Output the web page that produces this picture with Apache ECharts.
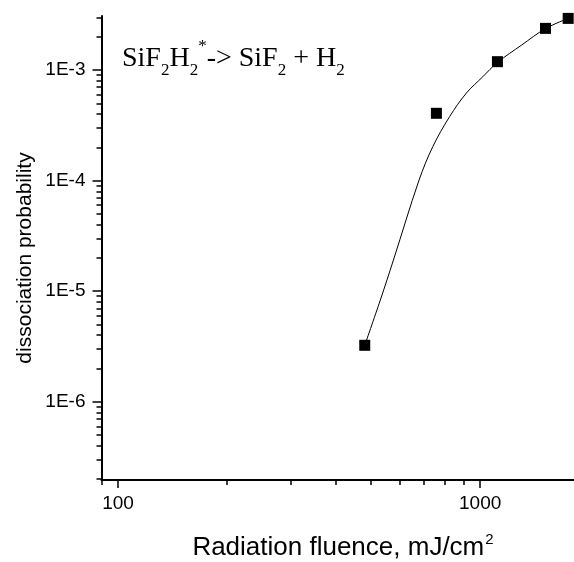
<!DOCTYPE html>
<html>
<head>
<meta charset="utf-8">
<script src="https://cdn.jsdelivr.net/npm/echarts@6/dist/echarts.min.js"></script>
<style>
html,body{margin:0;padding:0;background:#fff;}
#chart{width:574px;height:562px;}
</style>
</head>
<body>
<div id="chart"></div>
<script>
// ---- data ----
const fluence = [480, 757, 1116, 1515, 1750];               // mJ/cm^2
const probability = [3.24e-6, 4.06e-4, 1.19e-3, 2.38e-3, 2.93e-3];

// fitted guide curve
const fitFluence = [480, 530, 576, 678, 740, 823, 915, 1017, 1116, 1301, 1515, 1750];
const fitProbability = [3.24e-6, 8.32e-6, 1.91e-5, 1.01e-4, 2.03e-4, 3.78e-4, 6.16e-4, 8.7e-4, 1.17e-3, 1.68e-3, 2.37e-3, 2.93e-3];

const xRange = [90, 1816];
const yRange = [1.96e-7, 3.08e-3];
const xMajorTicks = [100, 1000];
const xMinorTicks = [90, 200, 300, 400, 500, 600, 700, 800, 900];
const yMajorTicks = [1e-6, 1e-5, 1e-4, 1e-3];
const yMajorLabels = ['1E-6', '1E-5', '1E-4', '1E-3'];
const yMinorTicks = [2e-7,3e-7,4e-7,5e-7,6e-7,7e-7,8e-7,9e-7,
  2e-6,3e-6,4e-6,5e-6,6e-6,7e-6,8e-6,9e-6,
  2e-5,3e-5,4e-5,5e-5,6e-5,7e-5,8e-5,9e-5,
  2e-4,3e-4,4e-4,5e-4,6e-4,7e-4,8e-4,9e-4,
  2e-3,3e-3];

const L = Math.log10;
const pts = fluence.map((x, i) => [L(x), L(probability[i])]);
const fit = fitFluence.map((x, i) => [L(x), L(fitProbability[i])]);

const font = 'Liberation Sans, Arial, sans-serif';
const serif = 'Liberation Serif, Times New Roman, serif';
const axisCol = '#000';

function xAxisDef(major) {
  return {
    type: 'value', min: L(xRange[0]), max: L(xRange[1]), position: 'bottom',
    axisLine: { show: major, onZero: false, lineStyle: { color: axisCol, width: 2 } },
    splitLine: { show: false },
    axisTick: { show: true, inside: false, length: major ? 8 : 5,
      customValues: (major ? xMajorTicks : xMinorTicks).map(L),
      lineStyle: { color: axisCol, width: 1.5 } },
    axisLabel: major ? { show: true, customValues: xMajorTicks.map(L), margin: 14,
      formatter: v => String(Math.round(Math.pow(10, v))),
      fontFamily: font, fontSize: 19, color: '#000' } : { show: false }
  };
}
function yAxisDef(major) {
  return {
    type: 'value', min: L(yRange[0]), max: L(yRange[1]), position: 'left',
    axisLine: { show: major, onZero: false, lineStyle: { color: axisCol, width: 2 } },
    splitLine: { show: false },
    axisTick: { show: true, inside: false, length: major ? 9 : 5,
      customValues: (major ? yMajorTicks : yMinorTicks).map(L),
      lineStyle: { color: axisCol, width: 1.5 } },
    axisLabel: major ? { show: true, customValues: yMajorTicks.map(L), margin: 16,
      formatter: v => yMajorLabels[yMajorTicks.findIndex(t => Math.abs(L(t) - v) < 1e-6)],
      fontFamily: font, fontSize: 19, color: '#000' } : { show: false }
  };
}

const chart = echarts.init(document.getElementById('chart'), null, { renderer: 'canvas' });
chart.setOption({
  animation: false,
  backgroundColor: '#fff',
  grid: { left: 101.5, right: 0, top: 16, bottom: 82, containLabel: false },
  xAxis: [xAxisDef(true), xAxisDef(false)],
  yAxis: [yAxisDef(true), yAxisDef(false)],
  series: [
    { type: 'line', data: fit, smooth: 0.35, showSymbol: false, symbol: 'none',
      lineStyle: { color: '#000', width: 1 }, xAxisIndex: 0, yAxisIndex: 0, z: 2 },
    { type: 'scatter', data: pts, symbol: 'rect', symbolSize: 11, clip: false,
      itemStyle: { color: '#000', opacity: 1 }, xAxisIndex: 0, yAxisIndex: 0, z: 3 }
  ],
  graphic: [
    { type: 'text', x: 343, y: 548,
      style: { text: 'Radiation fluence, mJ/cm{sup|2}', font: '26px ' + font, fill: '#000',
        align: 'center', verticalAlign: 'middle',
        rich: { sup: { fontSize: 15, fontFamily: font, lineHeight: 30, padding: [0,0,16,1] } } } },
    { type: 'text', x: 25, y: 258, rotation: Math.PI / 2,
      style: { text: 'dissociation probability', font: '21px ' + font, fill: '#000',
        align: 'center', verticalAlign: 'middle' } },
    { type: 'text', left: 122, top: 38,
      style: { text: 'SiF{sub|2}H{sub|2}{sup|*}-> SiF{sub|2} + H{sub|2}',
        font: '28px ' + serif, fill: '#000',
        rich: {
          sub: { fontSize: 17, fontFamily: serif, padding: [24,0,0,0], lineHeight: 34 },
          sup: { fontSize: 17, fontFamily: serif, padding: [0,0,24,0], lineHeight: 34 }
        } } }
  ]
});
</script>
</body>
</html>
